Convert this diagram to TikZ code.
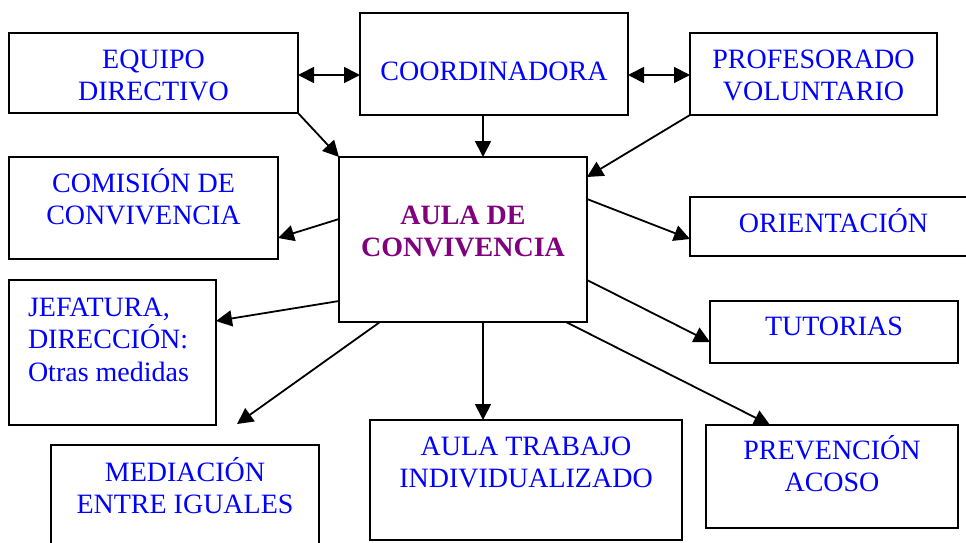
\documentclass[tikz,border=0pt]{standalone}
\usepackage{fontspec}
\setmainfont{Liberation Serif}
\usetikzlibrary{arrows.meta}
\definecolor{txtblue}{HTML}{0000FF}
\definecolor{aulapurple}{HTML}{800080}
\newcommand{\firstline}{\rule{0pt}{30pt}}
\begin{document}
\begin{tikzpicture}[x=1pt,y=-1pt,
  box/.style={draw=black,line width=2.2pt,inner sep=0pt,outer sep=0pt,fill=white},
  txt/.style={inner sep=0pt,outer sep=0pt,anchor=north,align=center,text=txtblue,
    font=\fontsize{28}{32.5}\selectfont},
  arr/.style={line width=1.8pt,-{Triangle[length=16pt,width=16pt]}},
  darr/.style={line width=1.8pt,{Triangle[length=16pt,width=16pt]}-{Triangle[length=16pt,width=16pt]}}]
\useasboundingbox[fill=white] (0,0) rectangle (966,542);
% boxes
\node[box,minimum width=289pt,minimum height=80pt] (eq) at (153.5,73) {};
\node[box,minimum width=268pt,minimum height=102pt] (co) at (494,64) {};
\node[box,minimum width=247pt,minimum height=82pt] (pr) at (813.5,74) {};
\node[box,minimum width=248pt,minimum height=165pt] (au) at (463,239.5) {};
\node[box,minimum width=269pt,minimum height=102pt] (cm) at (143.5,208) {};
\node[box,minimum width=287pt,minimum height=59pt] (or) at (833.5,226.5) {};
\node[box,minimum width=207pt,minimum height=145pt] (je) at (112.5,352.5) {};
\node[box,minimum width=268pt,minimum height=115pt] (me) at (185,502.5) {};
\node[box,minimum width=312pt,minimum height=120pt] (at) at (526,480) {};
\node[box,minimum width=248pt,minimum height=62pt] (tu) at (834,332) {};
\node[box,minimum width=252pt,minimum height=103pt] (pv) at (832,476.5) {};
% texts
\node[txt] (eqt) at (153.5,38) {\firstline EQUIPO\\DIRECTIVO};
\node[txt] (cot) at (494,50) {\firstline COORDINADORA};
\node[txt] (prt) at (813.5,38) {\firstline PROFESORADO\\VOLUNTARIO};
\node[txt] (cmt) at (143.5,162) {\firstline COMISIÓN DE\\CONVIVENCIA};
\node[txt,text=aulapurple,font=\fontsize{28}{32}\selectfont\bfseries] (aut) at (463,194) {\firstline AULA DE\\CONVIVENCIA};
\node[txt] (ort) at (833.5,202) {\firstline ORIENTACIÓN};
\node[txt,anchor=north west,align=left] (jet) at (28,286) {\firstline JEFATURA,\\DIRECCIÓN:\\Otras medidas};
\node[txt] (met) at (185,451) {\firstline MEDIACIÓN\\ENTRE IGUALES};
\node[txt] (att) at (526,425) {\firstline AULA TRABAJO\\INDIVIDUALIZADO};
\node[txt] (tut) at (834,305) {\firstline TUTORIAS};
\node[txt] (pvt) at (832,429) {\firstline PREVENCIÓN\\ACOSO};
% connectors
\coordinate (meend) at ([shift={(52pt,21pt)}]me.north);
\draw[darr] ([yshift=-2pt]eq.east) -- ([yshift=-2pt]eq.east -| co.west);
\draw[darr] ([yshift=-1pt]pr.west -| co.east) -- ([yshift=-1pt]pr.west);
\draw[arr] (eq.south east) -- (au.north west);
\draw[arr] ([xshift=-11pt]co.south) -- ([xshift=-11pt]co.south |- au.north);
\draw[arr] (pr.south west) -- ([yshift=-20pt]au.north east);
\draw[arr] ([yshift=20.5pt]au.west) -- ([yshift=-30pt]cm.east);
\draw[arr] ([yshift=40.5pt]au.east) -- ([yshift=-12.5pt]or.west);
\draw[arr] ([yshift=-61.5pt]au.west) -- ([yshift=31.5pt]je.east);
\draw[arr] ([xshift=41pt]au.south west) -- (meend);
\draw[arr] ([xshift=20pt]au.south) -- ([xshift=20pt]au.south |- at.north);
\draw[arr] ([yshift=-40.5pt]au.east) -- ([yshift=-10pt]tu.west);
\draw[arr] ([xshift=-21pt]au.south east) -- ([xshift=-62pt]pv.north);
\end{tikzpicture}
\end{document}
